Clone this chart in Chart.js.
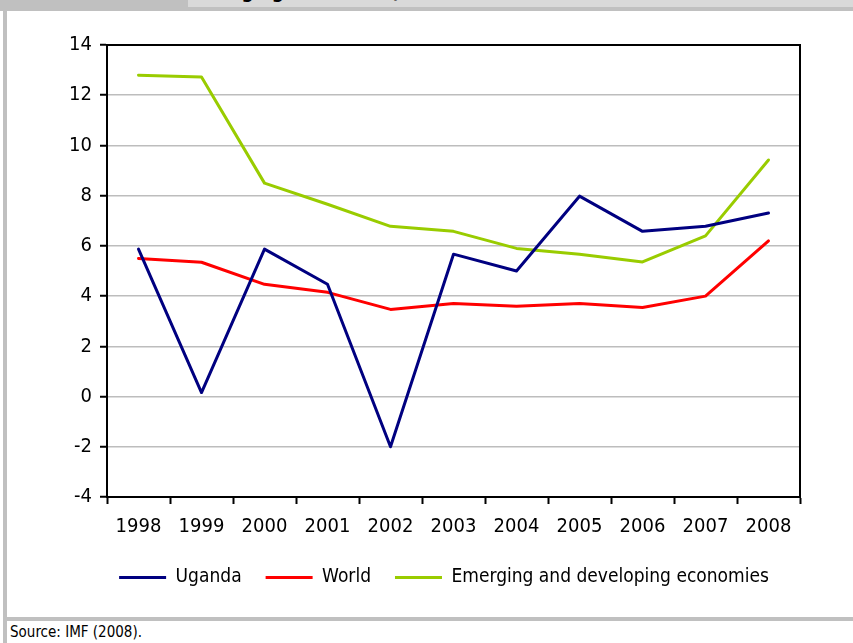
<!DOCTYPE html>
<html>
<head>
<meta charset="utf-8">
<script src="https://cdn.jsdelivr.net/npm/chart.js@4/dist/chart.umd.min.js"></script>
<style>
  html, body { margin: 0; padding: 0; background: #fff; }
  body { width: 853px; height: 643px; position: relative; overflow: hidden; }
  .strip { position: absolute; left: 0; top: 0; width: 853px; height: 11px; background: #c0c0c0; }
  .titlebox { position: absolute; left: 188px; top: 0; width: 665px; height: 7px; background: #d9d9d9; overflow: hidden; }
  .titlebox span { position: absolute; left: 4px; top: -20px; line-height: 20px; font: bold 19px "DejaVu Sans Condensed", "DejaVu Sans", sans-serif; color: #000; white-space: nowrap; }
  .leftbar { position: absolute; left: 3px; top: 11px; width: 4px; height: 632px; background: #c0c0c0; }
  .bottombar { position: absolute; left: 3px; top: 617px; width: 850px; height: 4px; background: #c0c0c0; }
  .source { position: absolute; left: 10px; top: 623px; font: 15px "DejaVu Sans Condensed", "DejaVu Sans", sans-serif; color: #000; }
  canvas { position: absolute; left: 0; top: 0; }
</style>
</head>
<body>
<div class="strip"></div>
<div class="titlebox"><span>emerging economies)</span></div>
<div class="leftbar"></div>
<div class="bottombar"></div>
<div class="source">Source: IMF (2008).</div>
<canvas id="growthChart" width="853" height="643"></canvas>
<script>
// Dados
const anos = ["1998", "1999", "2000", "2001", "2002", "2003", "2004", "2005", "2006", "2007", "2008"];
const uganda = [5.87, 0.16, 5.87, 4.47, -2.0, 5.67, 5.0, 7.98, 6.58, 6.78, 7.31];
const mundo = [5.5, 5.35, 4.47, 4.15, 3.47, 3.71, 3.6, 3.71, 3.55, 4.0, 6.2];
const emergentes = [12.8, 12.73, 8.5, 7.66, 6.78, 6.58, 5.9, 5.67, 5.36, 6.4, 9.42];
const yMin = -4, yMax = 14, yStep = 2;

const corUganda = "#000080";
const corMundo = "#ff0000";
const corEmergentes = "#99cc00";
const fonte = '"DejaVu Sans Condensed", "DejaVu Sans", sans-serif';

// moldura preta em volta da área do gráfico
const moldura = {
  id: "moldura",
  afterDraw(chart) {
    const { ctx, chartArea: a } = chart;
    ctx.save();
    ctx.strokeStyle = "#000";
    ctx.lineWidth = 2;
    ctx.strokeRect(a.left, a.top, a.right - a.left, a.bottom - a.top);
    ctx.restore();
  }
};

// a legenda fica centrada na largura toda da figura, não só na área do gráfico
const centraLegenda = {
  id: "centraLegenda",
  afterLayout(chart) {
    chart.legend.left = 0;
    chart.legend.right = 888;
  }
};

const ctx = document.getElementById("growthChart").getContext("2d");
new Chart(ctx, {
  type: "line",
  data: {
    labels: anos,
    datasets: [
      { label: "Uganda", data: uganda, borderColor: corUganda, backgroundColor: corUganda, borderWidth: 3 },
      { label: "World", data: mundo, borderColor: corMundo, backgroundColor: corMundo, borderWidth: 3 },
      { label: "Emerging and developing economies", data: emergentes, borderColor: corEmergentes, backgroundColor: corEmergentes, borderWidth: 3 }
    ]
  },
  options: {
    responsive: false,
    animation: false,
    layout: { padding: { left: 0, top: 45, right: 53, bottom: 46 } },
    elements: {
      line: { tension: 0, borderCapStyle: "round", borderJoinStyle: "round" },
      point: { radius: 0, hoverRadius: 0 }
    },
    scales: {
      x: {
        offset: true,
        afterFit(scale) { scale.height = 47; },
        grid: { drawOnChartArea: false, drawTicks: true, tickLength: 7, tickColor: "#000", tickWidth: 2, offset: true },
        border: { display: true, color: "#000", width: 2 },
        ticks: { color: "#000", padding: 11, maxRotation: 0, font: { family: fonte, size: 20 } }
      },
      y: {
        min: yMin,
        max: yMax,
        afterFit(scale) { scale.width = 107; },
        grid: { color: "#bdbdbd", lineWidth: 1.5, drawTicks: true, tickLength: 7, tickColor: "#000", tickWidth: 2 },
        border: { display: true, color: "#000", width: 2 },
        ticks: { stepSize: yStep, color: "#000", padding: 8, font: { family: fonte, size: 20 } }
      }
    },
    plugins: {
      legend: {
        position: "bottom",
        labels: {
          usePointStyle: true,
          pointStyle: "line",
          pointStyleWidth: 47,
          padding: 24,
          color: "#000",
          font: { family: fonte, size: 19 }
        }
      },
      tooltip: { enabled: false }
    }
  },
  plugins: [moldura, centraLegenda]
});
</script>
</body>
</html>
